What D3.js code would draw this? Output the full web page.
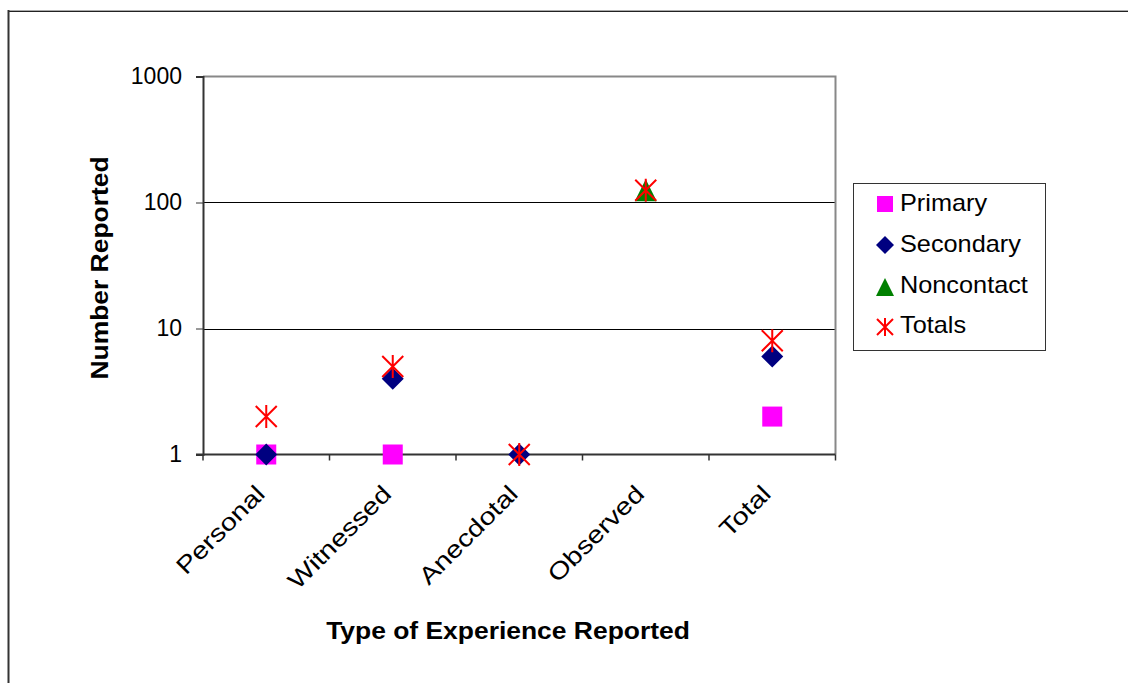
<!DOCTYPE html>
<html><head><meta charset="utf-8">
<script src="https://cdn.jsdelivr.net/npm/d3@7"></script>
<style>body{margin:0;background:#fff;} svg{display:block;font-family:Arial,"Liberation Sans",sans-serif;}</style>
</head><body>
<svg id="c" width="1128" height="683"></svg>
<script>
const categories = ["Personal","Witnessed","Anecdotal","Observed","Total"];
const primary    = [1, 1, null, null, 2];
const secondary  = [1, 4, 1, null, 6];
const noncontact = [null, null, null, 125, null];
const totals     = [2, 5, 1, 125, 8];
const yTicks = [1, 10, 100, 1000];
const seriesNames = ["Primary","Secondary","Noncontact","Totals"];

const svg = d3.select("#c");
// outer frame
svg.append("line").attr("x1",8).attr("x2",1128).attr("y1",10.5).attr("y2",10.5).attr("stroke","#aaa").attr("stroke-width",1);
svg.append("line").attr("x1",8).attr("x2",1128).attr("y1",11.5).attr("y2",11.5).attr("stroke","#222").attr("stroke-width",1);
svg.append("line").attr("x1",8.5).attr("x2",8.5).attr("y1",10).attr("y2",683).attr("stroke","#333").attr("stroke-width",2);

const L=203, R=835.5, T=76.5, B=454.5;
const x = d3.scaleBand().domain(categories).range([L,R]);
const y = d3.scaleLog().domain([1,1000]).range([B,T]);

// gridlines
svg.append("g").selectAll("line").data(yTicks.slice(1,3)).join("line")
  .attr("x1",L).attr("x2",R).attr("y1",d=>Math.round(y(d))+0.5).attr("y2",d=>Math.round(y(d))+0.5)
  .attr("stroke","#000").attr("stroke-width",1);
// plot border top/right gray
svg.append("path").attr("d",`M${L},${T} H${R} V${B}`).attr("fill","none").attr("stroke","#888").attr("stroke-width",2);

// y axis
const yAxis = d3.axisLeft(y).tickValues(yTicks).tickFormat(d3.format("d")).tickSize(7).tickPadding(14);
const ga = svg.append("g").attr("transform",`translate(${L},0)`).call(yAxis);
ga.select(".domain").attr("stroke","#333").attr("stroke-width",2);
ga.selectAll(".tick line").attr("stroke","#333");
ga.selectAll("text").attr("font-size",23).attr("fill","#000").attr("font-family","Arial, 'Liberation Sans', sans-serif");

// x axis
const xg = svg.append("g").attr("transform",`translate(0,${B})`);
xg.append("line").attr("x1",L-7).attr("x2",R).attr("y1",0).attr("y2",0).attr("stroke","#333").attr("stroke-width",2);
const bounds = categories.map(c=>x(c)).concat([R]);
xg.selectAll("line.t").data(bounds).join("line").attr("class","t")
  .attr("x1",d=>d).attr("x2",d=>d).attr("y1",0).attr("y2",6).attr("stroke","#333").attr("stroke-width",1.5);
xg.selectAll("text").data(categories).join("text")
  .attr("transform",d=>`translate(${x(d)+x.bandwidth()/2},${41}) rotate(-45) scale(1.2,1)`)
  .attr("text-anchor","end").attr("font-size",24).attr("fill","#000").text(d=>d);

// axis titles
svg.append("text").attr("transform","translate(108,268) rotate(-90) scale(1.15,1)").attr("text-anchor","middle")
  .attr("font-size",23).attr("font-weight","bold").text("Number Reported");
svg.append("text").attr("transform","translate(508,639) scale(1.15,1)").attr("text-anchor","middle")
  .attr("font-size",23).attr("font-weight","bold").text("Type of Experience Reported");

// markers
const cx = i => x(categories[i]) + x.bandwidth()/2;
function drawSquare(g,px,py){ g.append("rect").attr("x",px-10).attr("y",py-10).attr("width",20).attr("height",20).attr("fill","#ff00ff"); }
function drawDiamond(g,px,py){ g.append("path").attr("d",`M${px},${py-11}L${px+11},${py}L${px},${py+11}L${px-11},${py}Z`).attr("fill","#000080"); }
function drawTri(g,px,py){ g.append("path").attr("d",`M${px},${py-11}L${px+11},${py+11}L${px-11},${py+11}Z`).attr("fill","#008000"); }
function drawStar(g,px,py){
  const s=10.5;
  g.append("path").attr("d",`M${px-s},${py-s}L${px+s},${py+s}M${px-s},${py+s}L${px+s},${py-s}M${px},${py-s-1}L${px},${py+s+1}`)
   .attr("stroke","#ff0000").attr("stroke-width",2).attr("fill","none");
}
const mg = svg.append("g");
primary.forEach((v,i)=>{ if(v!=null) drawSquare(mg,cx(i),y(v)); });
secondary.forEach((v,i)=>{ if(v!=null) drawDiamond(mg,cx(i),y(v)); });
noncontact.forEach((v,i)=>{ if(v!=null) drawTri(mg,cx(i),y(v)); });
totals.forEach((v,i)=>{ if(v!=null) drawStar(mg,cx(i),y(v)); });

// legend
const lg = svg.append("g");
lg.append("rect").attr("x",853.5).attr("y",183.5).attr("width",192).attr("height",167).attr("fill","#fff").attr("stroke","#333").attr("stroke-width",1);
const ly = [204, 245, 287, 327];
seriesNames.forEach((n,i)=>{
  const g = lg.append("g"), px=885, py=ly[i];
  if(i===0){ g.append("rect").attr("x",px-8).attr("y",py-8).attr("width",16).attr("height",16).attr("fill","#ff00ff"); }
  else if(i===1){ g.append("path").attr("d",`M${px},${py-9}L${px+9},${py}L${px},${py+9}L${px-9},${py}Z`).attr("fill","#000080"); }
  else if(i===2){ g.append("path").attr("d",`M${px},${py-9}L${px+9},${py+9}L${px-9},${py+9}Z`).attr("fill","#008000"); }
  else { const s=8; g.append("path").attr("d",`M${px-s},${py-s}L${px+s},${py+s}M${px-s},${py+s}L${px+s},${py-s}M${px},${py-s-1}L${px},${py+s+1}`).attr("stroke","#ff0000").attr("stroke-width",2); }
  lg.append("text").attr("transform",`translate(900,${[211,252,293,333][i]}) scale(1.1,1)`).attr("font-size",23).text(n);
});
</script>
</body></html>
